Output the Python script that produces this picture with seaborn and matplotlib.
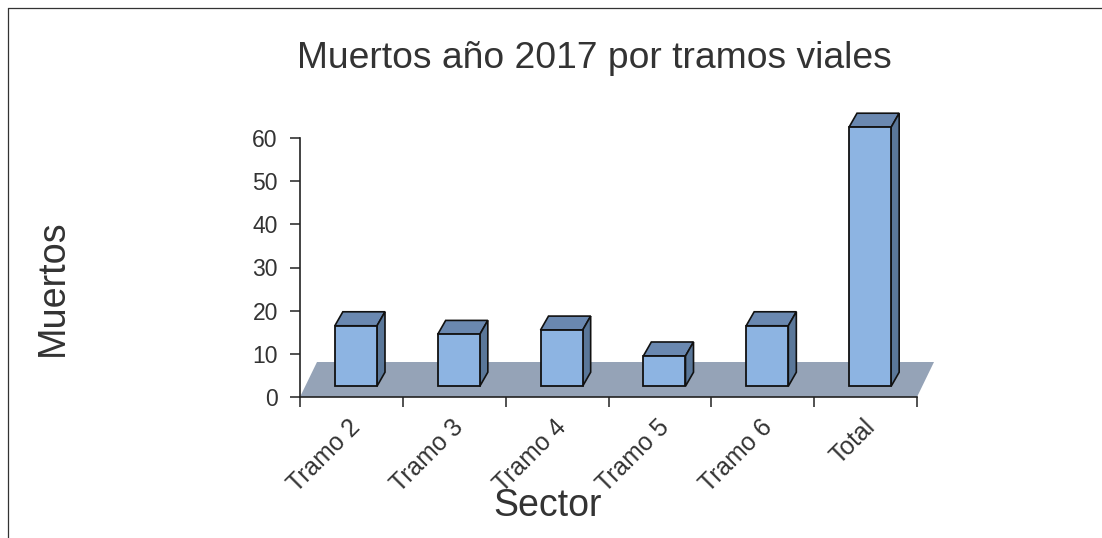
import matplotlib
matplotlib.use('Agg')
import matplotlib.pyplot as plt
import pandas as pd
import seaborn as sns
from matplotlib.patches import Polygon
from matplotlib.transforms import ScaledTranslation

# values
sectors = ['Tramo 2', 'Tramo 3', 'Tramo 4', 'Tramo 5', 'Tramo 6', 'Total']
muertos = [14, 12, 13, 7, 14, 60]
y_ticks = [0, 10, 20, 30, 40, 50, 60]

FRONT = '#8DB4E2'
TOP = '#6A88B0'
SIDE = '#5A7799'
FLOOR = '#95A3B7'
INK = '#333333'

W, H = 1102, 538

sns.set_theme(style='white')
plt.rcParams['font.family'] = ['Liberation Sans', 'DejaVu Sans']

fig = plt.figure(figsize=(W / 100, H / 100), dpi=100)
ax = fig.add_axes([300 / W, (H - 397) / H, 617 / W, 259 / H])

df = pd.DataFrame({'Sector': sectors, 'Muertos': muertos})
sns.barplot(data=df, x='Sector', y='Muertos', ax=ax, color=FRONT, saturation=1,
            width=0.41, bottom=2.5, edgecolor='#111111', linewidth=1.3, zorder=4)
ax.set_xlim(-0.5, 5.5)
ax.set_ylim(0, 60)

# pixel sizes in data units, for the fake 3d depth
px_x = 6 / 617
px_y = 60 / 259
dx, dy = 8 * px_x, 14 * px_y

# floor
ax.add_patch(Polygon([(-0.5, 0), (5.5, 0), (5.5 + 17 * px_x, 35 * px_y), (-0.5 + 17 * px_x, 35 * px_y)],
                     facecolor=FLOOR, edgecolor='none', clip_on=False, zorder=1))

# top and side faces of each bar
for bar in list(ax.patches):
    if not hasattr(bar, 'get_width'):
        continue
    bar.set_x(bar.get_x() + 4.5 * px_x)
    bar.set_clip_on(False)
    x0, x1 = bar.get_x(), bar.get_x() + bar.get_width()
    y0, y1 = bar.get_y(), bar.get_y() + bar.get_height()
    ax.add_patch(Polygon([(x0, y1), (x1, y1), (x1 + dx, y1 + dy), (x0 + dx, y1 + dy)], facecolor=TOP,
                         edgecolor='#111111', linewidth=1.2, clip_on=False, zorder=3))
    ax.add_patch(Polygon([(x1, y0), (x1 + dx, y0 + dy), (x1 + dx, y1 + dy), (x1, y1)], facecolor=SIDE,
                         edgecolor='#111111', linewidth=1.2, clip_on=False, zorder=3))

sns.despine(ax=ax, top=True, right=True)
for side in ['left', 'bottom']:
    ax.spines[side].set_color('#222222')
    ax.spines[side].set_linewidth(1.2)
    ax.spines[side].set_zorder(5)

ax.set_yticks(y_ticks)
ax.tick_params(axis='y', left=True, length=7, width=1.1, color='#222222', labelsize=16.5, labelcolor=INK, pad=9)
ax.set_xticks(range(len(sectors)))
ax.set_xticklabels(sectors, rotation=45, ha='right', rotation_mode='anchor')
ax.tick_params(axis='x', bottom=False, labelsize=17.8, labelcolor=INK, pad=7)
ax.set_xticks([i - 0.5 for i in range(len(sectors) + 1)], minor=True)
ax.tick_params(axis='x', which='minor', bottom=True, length=7, width=1.1, color='#222222')
ax.set_xlabel('')
ax.set_ylabel('')

# nudge the slanted labels a little to the left
for label in ax.get_xticklabels():
    label.set_transform(label.get_transform() + ScaledTranslation(-0.03, 0, fig.dpi_scale_trans))

fig.text(594 / W, 1 - 58 / H, 'Muertos año 2017 por tramos viales', fontsize=26.8, color=INK, ha='center', va='center')
fig.text(53 / W, 1 - 288 / H, 'Muertos', fontsize=27.2, color=INK, rotation=90, ha='center', va='center')
fig.text(548 / W, 1 - 506 / H, 'Sector', fontsize=27, color=INK, ha='center', va='center')

# frame lines along top and left
fig.add_artist(plt.Line2D([8 / W, 1], [1 - 8 / H, 1 - 8 / H], color='#333333', linewidth=0.9))
fig.add_artist(plt.Line2D([8 / W, 8 / W], [0, 1 - 8 / H], color='#333333', linewidth=0.9))

fig.savefig('out.png', dpi=100)
